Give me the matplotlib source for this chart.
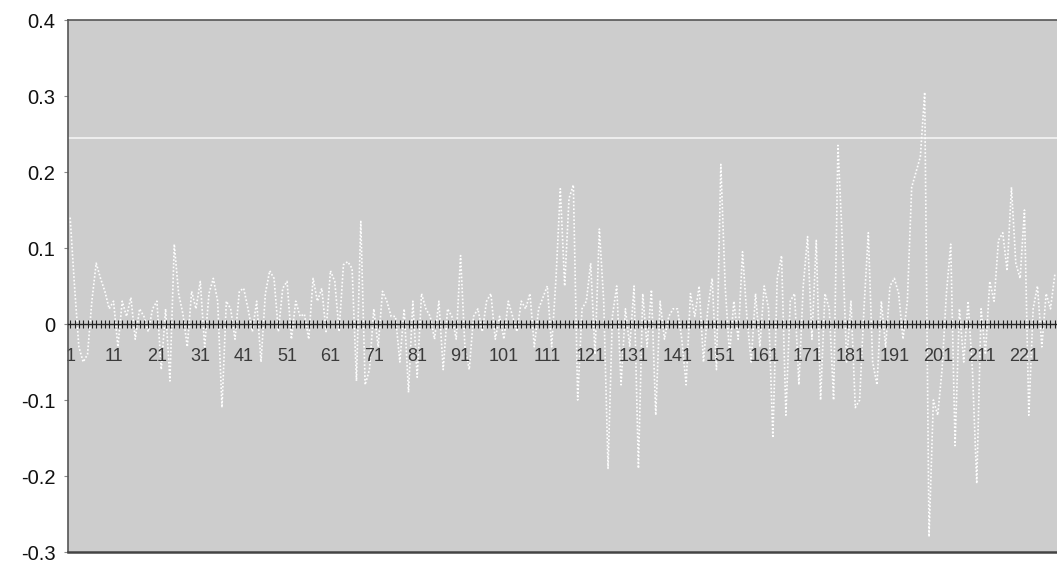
import matplotlib
matplotlib.use("Agg")
import matplotlib.pyplot as plt
import numpy as np

plt.rcParams['font.family'] = ['Liberation Sans', 'DejaVu Sans']

# ---- data ----
values_001_050 = [0.14, 0.05, -0.03, -0.05, -0.04, 0.03, 0.08, 0.06, 0.043, 0.02,
                  0.03, -0.03, 0.03, 0.01, 0.035, -0.02, 0.02, 0.01, -0.01, 0.02,
                  0.03, -0.06, 0.02, -0.075, 0.105, 0.04, 0.013, -0.03, 0.043, 0.02,
                  0.056, -0.03, 0.04, 0.06, 0.03, -0.11, 0.03, 0.02, -0.02, 0.043,
                  0.047, 0.02, -0.01, 0.03, -0.05, 0.04, 0.07, 0.06, -0.01, 0.047]
values_051_100 = [0.056, -0.02, 0.03, 0.01, 0.013, -0.02, 0.06, 0.03, 0.047, -0.01,
                  0.07, 0.056, -0.01, 0.078, 0.082, 0.073, -0.075, 0.135, -0.08, -0.06,
                  0.02, -0.03, 0.043, 0.03, 0.01, 0.01, -0.05, 0.02, -0.09, 0.03,
                  -0.07, 0.04, 0.02, 0.01, -0.02, 0.03, -0.06, 0.02, 0.01, -0.02,
                  0.09, -0.03, -0.06, 0.01, 0.02, -0.01, 0.03, 0.04, -0.02, 0.01]
values_101_150 = [-0.02, 0.03, 0.01, -0.01, 0.03, 0.02, 0.04, -0.03, 0.02, 0.035,
                  0.05, -0.03, 0.06, 0.178, 0.05, 0.165, 0.183, -0.10, 0.02, 0.03,
                  0.08, -0.04, 0.125, 0.03, -0.19, 0.01, 0.05, -0.08, 0.02, -0.03,
                  0.05, -0.19, 0.04, -0.03, 0.045, -0.12, 0.03, -0.02, 0.01, 0.02,
                  0.02, -0.02, -0.08, 0.04, 0.01, 0.05, -0.05, 0.02, 0.06, -0.06]
values_151_200 = [0.21, 0.05, -0.04, 0.03, -0.02, 0.095, 0.01, -0.05, 0.04, -0.03,
                  0.05, 0.02, -0.15, 0.06, 0.09, -0.12, 0.03, 0.04, -0.08, 0.05,
                  0.115, -0.02, 0.11, -0.10, 0.04, 0.02, -0.10, 0.235, 0.11, -0.05,
                  0.03, -0.11, -0.10, 0.02, 0.12, -0.05, -0.08, 0.03, -0.03, 0.05,
                  0.06, 0.04, -0.02, 0.03, 0.18, 0.20, 0.22, 0.305, -0.28, -0.10]
values_201_228 = [-0.12, -0.06, 0.04, 0.105, -0.16, 0.02, -0.05, 0.03, -0.06, -0.21,
                  0.02, -0.04, 0.056, 0.03, 0.11, 0.12, 0.07, 0.18, 0.08, 0.06,
                  0.15, -0.12, 0.02, 0.05, -0.03, 0.04, 0.02, 0.065]
series = values_001_050 + values_051_100 + values_101_150 + values_151_200 + values_201_228
categories = list(range(1, len(series) + 1))
ref_level = 0.245
y_ticks = [0.4, 0.3, 0.2, 0.1, 0, -0.1, -0.2, -0.3]
y_tick_labels = ['0.4', '0.3', '0.2', '0.1', '0', '-0.1', '-0.2', '-0.3']
x_label_every = 10

# ---- figure ----
W, H = 1057, 563
fig = plt.figure(figsize=(W / 100, H / 100), dpi=100)
fig.patch.set_facecolor('white')
ax = fig.add_axes([68 / W, 1 - 552 / H, 1 - 68 / W, (552 - 20) / H])
ax.set_facecolor('#cdcdcd')

ax.set_xlim(0.5, len(series) + 0.5)
ax.set_ylim(-0.3, 0.4)

ax.axhline(ref_level, color='#eeeeee', lw=1.4, zorder=1.2)
ax.plot(categories, series, color='white', lw=1.2, linestyle=(0, (1, 1.2)), zorder=1.5)

# spines
ax.spines['right'].set_visible(False)
ax.spines['top'].set_color('#555555')
ax.spines['top'].set_linewidth(1.2)
ax.spines['left'].set_color('#555555')
ax.spines['left'].set_linewidth(1.2)
ax.spines['bottom'].set_position(('data', 0))
ax.spines['bottom'].set_color('#222222')
ax.spines['bottom'].set_linewidth(1.0)
ax.plot([0, 1], [0, 0], transform=ax.transAxes, color='#444444', lw=1.8,
        clip_on=False, zorder=5)

# y axis
ax.set_yticks(y_ticks)
ax.set_yticklabels(y_tick_labels)
ax.tick_params(axis='y', direction='out', length=3, width=0.8, color='#888888',
               labelsize=14.5, pad=6, labelcolor='#111111')

# x axis: a tick at every category, label every 10th
ax.set_xticks(categories)
ax.set_xticklabels([str(c) if (c - 1) % x_label_every == 0 else '' for c in categories])
ax.tick_params(axis='x', direction='inout', length=6, width=0.8, color='#222222',
               labelsize=13, pad=14, labelcolor='#3a3a3a')

fig.savefig('out.png', dpi=100)
